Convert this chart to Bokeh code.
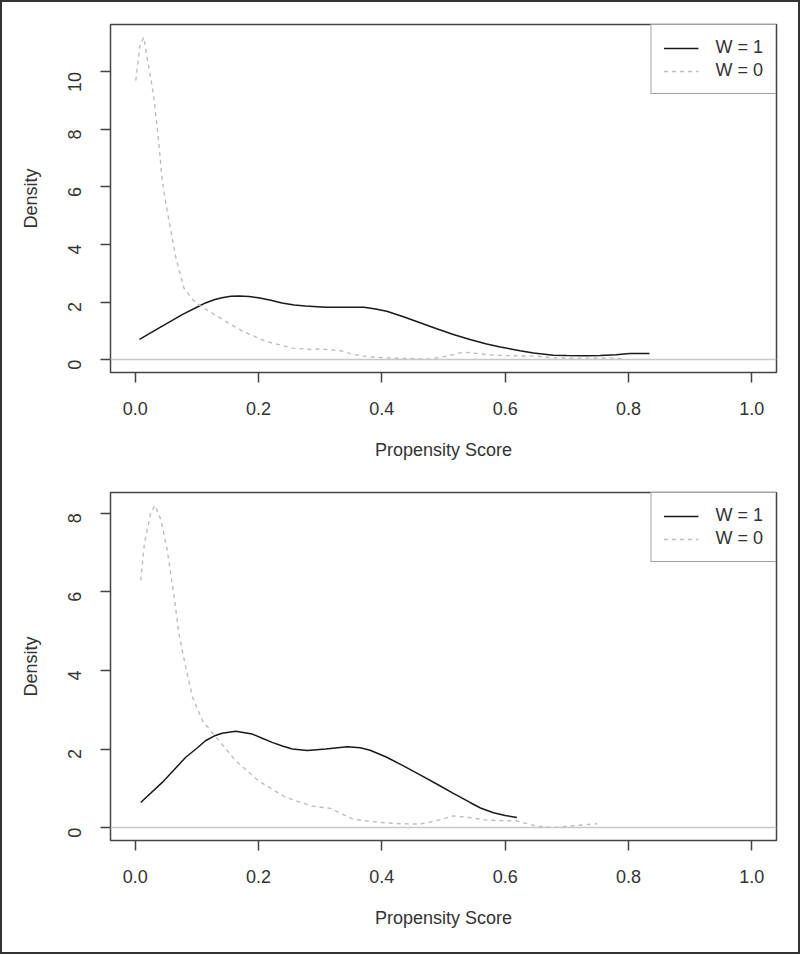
import math
from bokeh.plotting import figure
from bokeh.models import Range1d, FixedTicker, NumeralTickFormatter, Span, Legend, LegendItem
from bokeh.layouts import column
from bokeh.embed import file_html
from bokeh.resources import INLINE

# ---------------- data ----------------
x_ticks = [0.0, 0.2, 0.4, 0.6, 0.8, 1.0]
top_y_ticks = [0, 2, 4, 6, 8, 10]
bot_y_ticks = [0, 2, 4, 6, 8]
series_labels = ["W = 1", "W = 0"]
x_title = "Propensity Score"
y_title = "Density"

# top panel, W = 1 (solid)
top_w1_x = [0.007, 0.039, 0.077, 0.100, 0.114, 0.128, 0.141, 0.155, 0.168, 0.185,
            0.200, 0.220, 0.238, 0.258, 0.276, 0.309, 0.340, 0.371, 0.390, 0.408,
            0.435, 0.462, 0.489, 0.516, 0.543, 0.570, 0.592, 0.624, 0.646, 0.678,
            0.700, 0.730, 0.754, 0.780, 0.802, 0.834]
top_w1_y = [0.70, 1.10, 1.57, 1.82, 1.97, 2.08, 2.15, 2.20, 2.21, 2.19,
            2.15, 2.06, 1.97, 1.90, 1.86, 1.82, 1.82, 1.82, 1.76, 1.68,
            1.49, 1.28, 1.07, 0.87, 0.70, 0.54, 0.44, 0.31, 0.23, 0.15,
            0.14, 0.13, 0.14, 0.17, 0.21, 0.21]
# top panel, W = 0 (dashed)
top_w0_x = [0.001, 0.008, 0.014, 0.020, 0.026, 0.031, 0.038, 0.044, 0.050, 0.055,
            0.066, 0.079, 0.093, 0.105, 0.120, 0.147, 0.174, 0.211, 0.255, 0.287,
            0.300, 0.333, 0.350, 0.370, 0.408, 0.440, 0.478, 0.505, 0.532, 0.560,
            0.581, 0.620, 0.651, 0.678, 0.720, 0.770, 0.790]
top_w0_y = [9.70, 10.95, 11.20, 10.40, 9.70, 9.00, 7.60, 6.21, 5.40, 4.82,
            3.54, 2.49, 2.09, 1.88, 1.68, 1.33, 0.99, 0.64, 0.40, 0.35,
            0.37, 0.31, 0.20, 0.12, 0.06, 0.04, 0.02, 0.12, 0.26, 0.20,
            0.15, 0.13, 0.12, 0.06, 0.05, 0.06, 0.03]

# bottom panel, W = 1 (solid)
bot_w1_x = [0.009, 0.044, 0.082, 0.100, 0.114, 0.128, 0.141, 0.163, 0.190, 0.205,
            0.222, 0.240, 0.255, 0.279, 0.309, 0.344, 0.365, 0.381, 0.408, 0.435,
            0.462, 0.489, 0.516, 0.543, 0.560, 0.581, 0.600, 0.619]
bot_w1_y = [0.64, 1.15, 1.79, 2.02, 2.21, 2.33, 2.40, 2.45, 2.38, 2.28,
            2.17, 2.07, 2.00, 1.96, 2.00, 2.06, 2.03, 1.97, 1.79, 1.57,
            1.34, 1.11, 0.87, 0.64, 0.50, 0.38, 0.31, 0.26]
# bottom panel, W = 0 (dashed)
bot_w0_x = [0.009, 0.015, 0.025, 0.032, 0.042, 0.052, 0.063, 0.071, 0.082, 0.093,
            0.109, 0.136, 0.163, 0.200, 0.244, 0.287, 0.317, 0.335, 0.354, 0.398,
            0.430, 0.462, 0.490, 0.516, 0.545, 0.570, 0.619, 0.651, 0.678, 0.705,
            0.749]
bot_w0_y = [6.29, 7.23, 8.00, 8.20, 7.82, 7.06, 5.90, 4.93, 4.08, 3.32,
            2.72, 2.21, 1.70, 1.19, 0.77, 0.55, 0.49, 0.35, 0.21, 0.13,
            0.10, 0.09, 0.18, 0.30, 0.25, 0.19, 0.17, 0.04, 0.00, 0.04,
            0.10]

FONT = "Liberation Sans"
TXT = "#333333"
LINE = "#444444"


def make_panel(w1x, w1y, w0x, w0y, yticks, top, bottom):
    ymax = max(max(w1y), max(w0y))
    pad = 0.04 * ymax
    p = figure(width=796, height=475, output_backend="svg", toolbar_location=None,
               x_range=Range1d(-0.04, 1.04), y_range=Range1d(-pad, ymax + pad),
               min_border_left=108, min_border_right=22, min_border_top=top,
               min_border_bottom=bottom)
    p.grid.visible = False
    p.outline_line_color = LINE
    p.outline_line_width = 1.5
    p.background_fill_color = "white"
    p.border_fill_color = "white"

    for ax in (p.xaxis[0], p.yaxis[0]):
        ax.axis_line_color = None
        ax.major_tick_line_color = LINE
        ax.major_tick_line_width = 1.5
        ax.major_tick_in = 0
        ax.major_tick_out = 10
        ax.minor_tick_line_color = None
        ax.major_label_text_font = FONT
        ax.major_label_text_font_size = "18px"
        ax.major_label_text_color = TXT
        ax.axis_label_text_font = FONT
        ax.axis_label_text_font_size = "18px"
        ax.axis_label_text_font_style = "normal"
        ax.axis_label_text_color = TXT

    p.xaxis.ticker = FixedTicker(ticks=x_ticks)
    p.xaxis.formatter = NumeralTickFormatter(format="0.0")
    p.xaxis.axis_label = x_title
    p.xaxis.major_label_standoff = 19
    p.xaxis.axis_label_standoff = 22

    p.yaxis.ticker = FixedTicker(ticks=yticks)
    p.yaxis.axis_label = y_title
    p.yaxis.major_label_orientation = math.pi / 2
    p.yaxis.major_label_standoff = 26
    p.yaxis.axis_label_standoff = 18

    p.add_layout(Span(location=0, dimension="width", line_color="#c8c8c8", line_width=1.5))

    r1 = p.line(w1x, w1y, line_color="#1a1a1a", line_width=1.5)
    r0 = p.line(w0x, w0y, line_color="#bdbdbd", line_width=1.4, line_dash="4 4")

    legend = Legend(items=[LegendItem(label=series_labels[0], renderers=[r1]),
                           LegendItem(label=series_labels[1], renderers=[r0])],
                    location="top_right", margin=0, padding=12, spacing=2,
                    glyph_width=35, glyph_height=20, label_height=20,
                    label_standoff=17, border_line_color=LINE, border_line_width=1.5,
                    background_fill_alpha=1.0, label_text_font=FONT,
                    label_text_font_size="18px", label_text_color=TXT)
    p.add_layout(legend)
    return p


p1 = make_panel(top_w1_x, top_w1_y, top_w0_x, top_w0_y, top_y_ticks, 22, 105)
p2 = make_panel(bot_w1_x, bot_w1_y, bot_w0_x, bot_w0_y, bot_y_ticks, 15, 112)

layout = column(p1, p2, spacing=0, styles={"border": "2px solid #333333"})

with open("out.html", "w") as f:
    f.write(file_html(layout, INLINE))
